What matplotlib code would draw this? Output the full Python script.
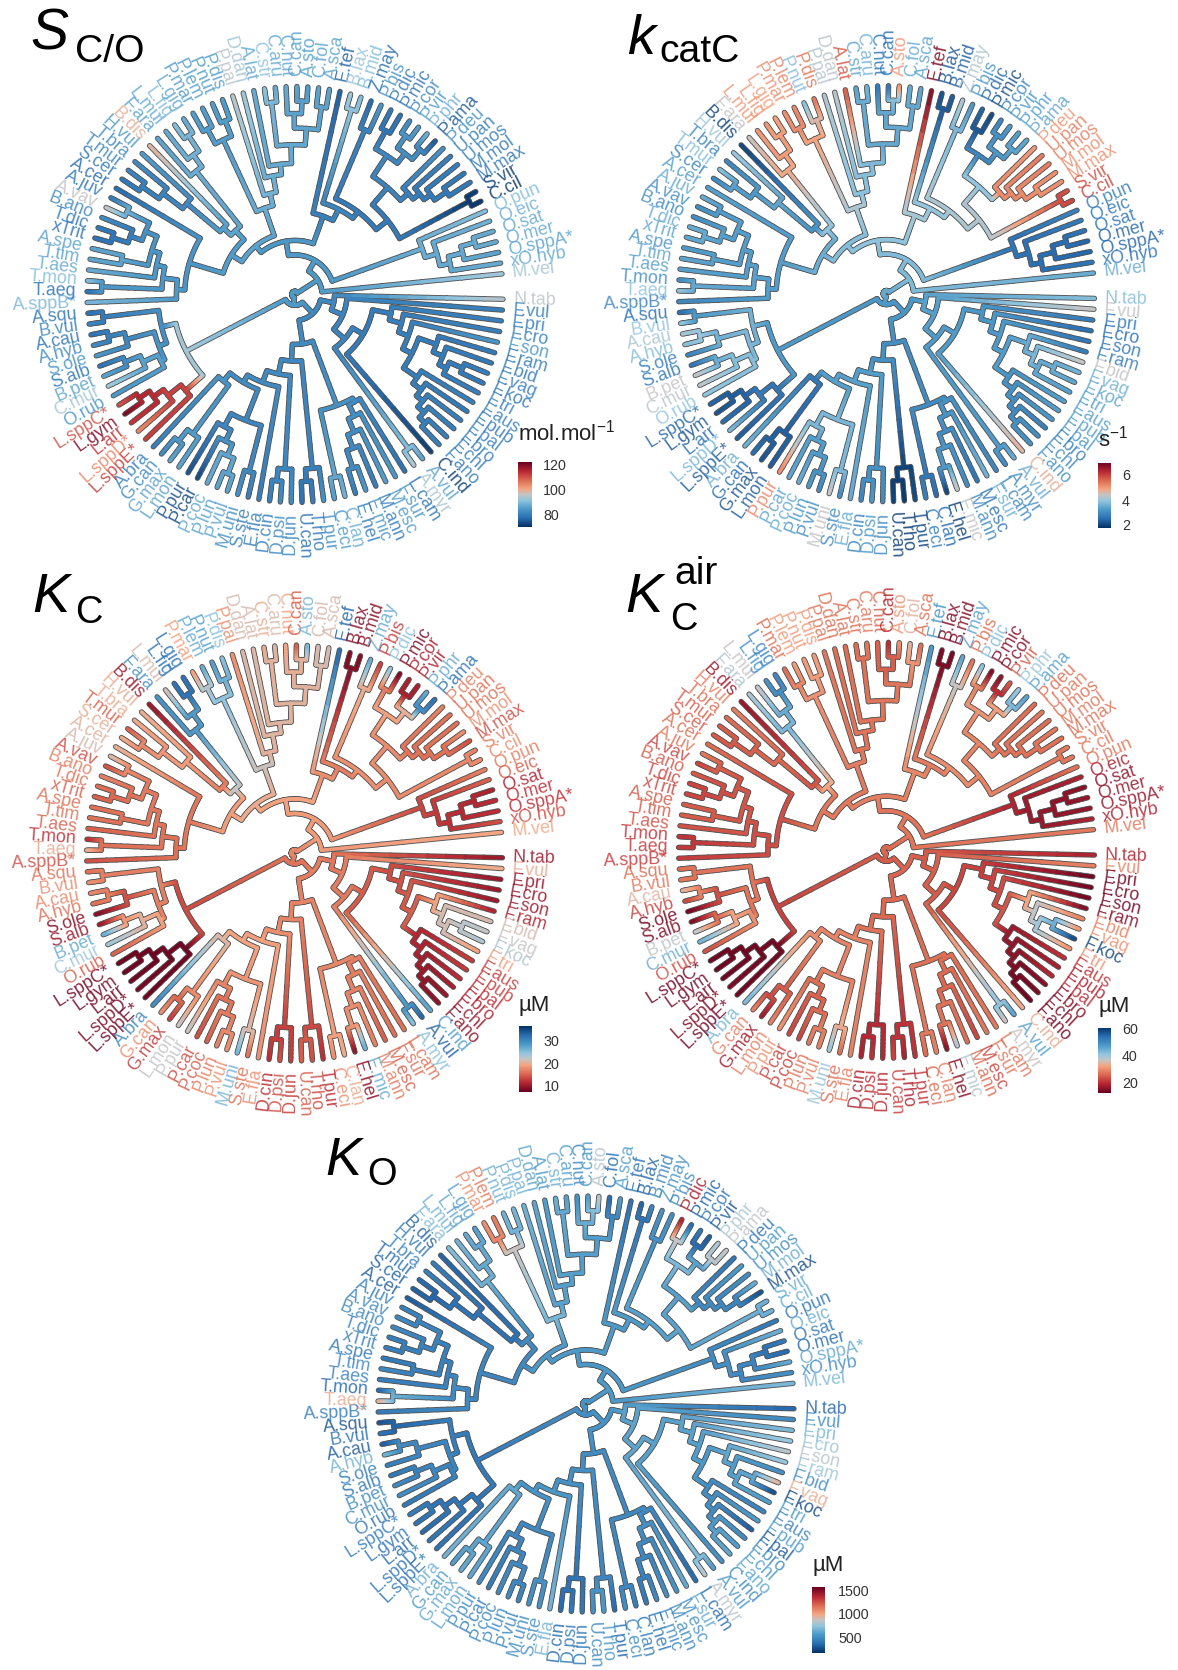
import numpy as np
import matplotlib
matplotlib.use("Agg")
import matplotlib.pyplot as plt
from matplotlib.collections import LineCollection
from matplotlib.colors import LinearSegmentedColormap

plt.rcParams['font.family'] = ['Liberation Sans', 'DejaVu Sans']
plt.rcParams['mathtext.default'] = 'regular'
plt.rcParams['mathtext.fontset'] = 'custom'
plt.rcParams['mathtext.rm'] = 'Liberation Sans'

# ---------- data ----------
TIPS = ['N.tab','F.vul','F.pri','F.cro','F.son','F.ram','F.bid','F.vag','F.koc','F.tri','F.aus','F.pub','F.pal','F.bro','F.chl','F.ano',
 'C.ind','A.vul','A.myr','L.cam','F.sur','M.esc','M.ann','E.mic','E.hel','C.lan','C.eci','T.pur','T.rho','U.can','D.jun','D.psi','D.cin',
 'E.fla','S.ste','M.uni','P.vul','P.lun','P.coc','P.car','P.pur','L.mon','G.max','G.can','A.bra','L.sppE*','L.sppD*','L.arr','L.gym','L.sppC*',
 'O.rub','C.mur','B.pet','S.alb','S.ole','A.hyb','A.cau','B.vul','A.squ','A.sppB*','T.aeg','T.mon','T.aes','T.tim','A.spe','xTrit','T.dic',
 'B.ano','A.vav','A.juv','A.cer','S.cer','T.mur','T.bra','H.vul','B.dis','F.ara','L.mul','L.fig','L.gig','P.mar','P.lem','P.nut','P.dis',
 'P.pal','D.dan','A.lat','C.str','C.aru','C.nut','C.can','A.sto','C.fol','A.sca','E.tef','B.lax','B.mid','Z.may','P.bis','P.dic','P.mic',
 'P.cor','P.vir','P.phr','P.ama','P.deu','U.pan','U.mos','M.mol','M.max','S.vir','C.cil','O.pun','O.eic','O.sat','O.mer','O.sppA*','xO.hyb','M.vel']

SCO = [95,80,80,80,84,79,79,80,79,80,80,79,80,80,80,80,72,86,94,78,84,85,80,84,80,88,85,83,80,78,82,82,80,80,80,83,86,86,87,73,74,86,86,82,80,
 112,104,113,120,110,84,93,86,78,84,82,78,81,78,89,78,90,87,86,86,78,79,82,96,79,77,79,81,82,85,99,86,87,90,87,85,85,85,85,95,93,87,91,87,87,86,85,86,86,
 76,92,90,77,84,79,78,82,85,88,75,83,80,80,79,79,72,71,90,88,87,87,86,87,93]
KCAT = [3.8,4.4,2.7,2.5,2.6,2.7,4.4,3.6,3.4,3.3,3.3,3.3,3.2,2.8,3.0,3.1,4.7,3.5,3.0,2.9,3.6,2.6,3.0,4.4,2.0,2.5,2.8,2.1,1.9,2.0,3.0,3.2,2.9,3.5,3.0,4.4,3.0,3.2,3.5,3.4,5.2,2.3,2.2,2.5,3.6,
 2.3,3.7,2.5,2.2,2.4,3.9,4.3,4.4,2.6,2.8,3.8,4.1,3.9,2.5,2.9,3.9,3.0,3.3,3.4,3.2,3.4,3.5,3.0,3.0,3.5,3.3,2.9,3.8,2.9,4.0,2.0,4.4,5.0,5.0,4.9,5.1,5.2,3.8,5.4,4.2,4.3,5.7,3.4,3.6,2.7,2.6,5.0,3.5,3.4,
 6.8,2.2,2.3,4.2,3.2,2.4,2.1,2.9,3.2,3.3,3.4,5.0,5.3,5.3,5.1,5.1,5.8,5.9,2.8,2.7,2.6,2.4,2.4,2.6,3.5]
KC = [10,20,10,10,10,11,21,22,23,19,13,13,12,11,10,9.5,28,33,25,16,16,15,17,27,9.5,20,18,12,14,15,13,14,12,18,16,26,18,17,15,14,22,22,13,18,30,
 8,8.5,8,8,8,15,24,27,10,9,16,17.5,18,16,14,20,12,15,16,16,15,16,17,14,21,20.5,20,15,20,20,10,29,21,32,32,19,27,28,25,18,21,21,20,21,19.5,15,26,21,21,
 33,9,9,27,13,25,8.5,11,11,27,32,17,16,16,18,14,17,18,17,15,11,12,12,14,19.5]
KCAIR = [18,28,13,13,13,14,28,30,58,30,20,18,19,15,14,13,33,46,36,27,27,22,26,38,15,28,26,20,18,22,19,20,18,28,26,40,28,27,22,22,30,28,17,28,43,
 13,14,13,13,13,23,44,37,14,13,22,34,27,26,21,21,20,23,24,24,22,22,24,22,27,26,24,24,26,28,16,38,36,48,50,26,31,31,31,27,26,26,26,27,25,19,30,34,26,
 48,14,14,46,26,42,14,15,24,40,46,26,27,26,27,26,27,27,27,18,15,16,16,18,27]
KO = [330,480,680,760,840,760,500,950,250,560,450,560,300,480,560,600,500,560,840,350,620,520,500,480,400,430,500,350,550,500,400,400,350,660,520,500,450,480,480,420,480,600,620,560,650,
 380,400,350,380,420,400,500,480,400,430,660,300,380,280,420,950,330,430,470,400,430,430,470,470,430,300,320,350,440,420,330,700,660,620,580,1050,1120,650,660,650,600,560,640,580,500,560,830,350,570,
 380,330,450,520,500,1400,330,400,300,800,850,400,550,500,640,260,640,640,400,640,400,350,620,500,680]

def N(r, *kids):
    return (r, kids)

# node depths (1 = tip)
FLAV5 = N(.72,'F.ram',N(.77,'F.bid',N(.81,N(.88,'F.vag','F.koc'),'F.tri')))
FLAV6 = N(.71,'F.aus',N(.76,'F.pub',N(.80,'F.pal',N(.84,'F.bro',N(.88,'F.chl','F.ano')))))
FLAV = N(.47,'F.pri',N(.53,'F.cro',N(.58,'F.son',N(.63,FLAV5,FLAV6))))
GRP_A = N(.19,'N.tab',N(.25,'F.vul',N(.32,N(.38,FLAV,'C.ind'),N(.92,'A.vul','A.myr'))))
COMB = N(.59,'L.cam',N(.65,'F.sur',N(.72,'M.esc',N(.79,'M.ann',N(.88,'E.mic','E.hel')))))
GRP_H2 = N(.57,COMB,N(.90,'C.lan','C.eci'))
TRI_T = N(.84,'T.pur',N(.90,'T.rho','U.can'))
TRI_D = N(.84,'D.jun',N(.90,'D.psi','D.cin'))
CL_P = N(.72,N(.78,N(.84,N(.92,'P.vul','P.lun'),'P.coc'),'P.car'),'P.pur')
GRP_H9 = N(.65,N(.88,'S.ste','M.uni'),CL_P)
GRP_HA = N(.54,N(.83,'L.mon',N(.90,'G.max','G.can')),'A.bra')
GRP_H5 = N(.45,'E.fla',N(.49,GRP_H9,GRP_HA))
GRP_H = N(.24,N(.32,N(.39,GRP_H5,TRI_D),TRI_T),GRP_H2)
GRP_I = N(.125,GRP_A,GRP_H)
CL_L = N(.70,'L.sppE*',N(.78,'L.sppD*',N(.84,'L.arr',N(.90,'L.gym','L.sppC*'))))
CL_K2 = N(.72,'O.rub',N(.80,'C.mur',N(.88,'B.pet','S.alb')))
CL_K3 = N(.84,'S.ole',N(.92,'A.hyb','A.cau'))
CL_K = N(.66,N(.70,CL_K2,CL_K3),N(.93,'B.vul','A.squ'))
GRP_LK = N(.59,CL_L,CL_K)
CL_T4 = N(.78,N(.84,N(.92,'xTrit','T.dic'),'B.ano'),N(.90,'A.vav','A.juv'))
CL_T1 = N(.64,N(.93,'T.aeg','T.mon'),N(.68,'T.aes',N(.72,N(.85,'T.tim','A.spe'),CL_T4)))
CL_TN = N(.53,N(.57,'A.sppB*',CL_T1),'A.cer')
CL_Y2 = N(.47,N(.68,N(.80,N(.90,'S.cer','T.mur'),'T.bra'),'H.vul'),'B.dis')
CL_Y3 = N(.76,'F.ara',N(.83,'L.mul',N(.92,'L.fig','L.gig')))
GRP_G1 = N(.36,CL_TN,N(.42,CL_Y2,CL_Y3))
CL_V1 = N(.82,N(.90,'P.mar','P.lem'),N(.90,'P.nut','P.dis'))
CL_W1 = N(.72,N(.93,'C.str','C.aru'),N(.80,N(.87,'C.nut',N(.93,'C.can','A.sto')),N(.91,'C.fol','A.sca')))
CL_W4 = N(.50,'P.pal',N(.58,'D.dan',N(.63,'A.lat',CL_W1)))
GRP_X1 = N(.44,CL_V1,CL_W4)
CL_S1 = N(.80,N(.90,'P.dic','P.mic'),N(.86,N(.93,'P.cor','P.vir'),N(.92,'P.phr','P.ama')))
CL_S2 = N(.73,'P.deu',N(.77,'U.pan',N(.81,'U.mos',N(.88,'M.mol','M.max'))))
CL_Q4 = N(.57,N(.68,CL_S1,CL_S2),N(.95,'S.vir','C.cil'))
CL_Q = N(.40,'E.tef',N(.46,N(.93,'B.lax','B.mid'),N(.50,N(.86,'Z.may','P.bis'),CL_Q4)))
CL_O = N(.65,'O.pun',N(.71,'O.eic',N(.76,N(.83,N(.90,'O.sat','O.mer'),'O.sppA*'),'xO.hyb')))
GRP_UP = N(.19,N(.26,N(.30,GRP_G1,GRP_X1),CL_Q),CL_O)
GRP_U = N(.13,GRP_UP,'M.vel')
TREE = N(.015,N(.052,GRP_I,GRP_LK),GRP_U)

W, H = 1178, 1670
R = 208.0
THETA0, GAP = -1.3, 7.0
LABEL_R = 1.05
STOPS = [(0,'#053061'),(.14,'#2a6fb3'),(.28,'#4d9ac9'),(.41,'#92c5de'),(.5,'#c4c4c4'),(.59,'#f4a582'),(.72,'#dc6b52'),(.85,'#bb2a34'),(1,'#67001f')]
CMAP = LinearSegmentedColormap.from_list('cm', STOPS)
CMAP_R = CMAP.reversed()

panels = [
 dict(vals=SCO,  c=(295,294.5), cm=CMAP,   lim=(70,122),   ticks=[80,100,120], bar=(518,532,462,527), tx=543, title='mol.mol$^{-1}$', ty=441),
 dict(vals=KCAT, c=(886.5,293.7), cm=CMAP, lim=(1.76,7.0), ticks=[2,4,6], bar=(1098,1111,462.5,528), tx=1122, title='s$^{-1}$', ty=446),
 dict(vals=KC,   c=(294.5,853), cm=CMAP_R, lim=(7.5,36.5), ticks=[10,20,30], bar=(519,532,1026,1091.6), tx=543.6, title='\u00b5M', ty=1011),
 dict(vals=KCAIR,c=(886.5,850.3), cm=CMAP_R, lim=(12,60.7), ticks=[20,40,60], bar=(1098,1111,1028,1093), tx=1122, title='\u00b5M', ty=1011.6),
 dict(vals=KO,   c=(586,1404), cm=CMAP,    lim=(160,1564), ticks=[500,1000,1500], bar=(812,825,1587,1653), tx=838, title='\u00b5M', ty=1571),
]

# (text, x, baseline y, font px, italic)
headings = [
 ('S',30,50,57,True),('C/O',75,62,39,False),
 ('k',627,53.6,56,True),('catC',659,62.5,39,False),
 ('K',32,612.5,56,True),('C',75,622.7,38,False),
 ('K',625.6,612.5,56,True),('air',674,584.5,39,False),('C',670,630,38,False),
 ('K',325,1174.8,54,True),('O',367,1185,38,False),
]

fig = plt.figure(figsize=(W/100, H/100), dpi=100)
fig.patch.set_facecolor('white')

tip_index = {t: i for i, t in enumerate(TIPS)}
DT = (360.0 - GAP) / (len(TIPS) - 1)
def tip_theta(i):
    return np.deg2rad(THETA0 - i * DT)

def layout(node):
    if isinstance(node, str):
        return dict(name=node, th=tip_theta(tip_index[node]), r=1.0, kids=[])
    kids = [layout(k) for k in node[1]]
    th = (kids[0]['th'] + kids[-1]['th']) / 2
    return dict(name=None, th=th, r=node[0], kids=kids)

def assign(n, values):
    """Each inner node takes the mean of the tips below it."""
    if n['name']:
        n['v'] = values[tip_index[n['name']]]
        return [n['v']]
    below = []
    for k in n['kids']:
        below += assign(k, values)
    n['v'] = float(np.mean(below))
    return below

LAYOUT = layout(TREE)

def collect(n, segs, vals):
    if not n['kids']:
        return
    ths = [k['th'] for k in n['kids']]
    a = np.linspace(ths[0], ths[-1], max(3, int(abs(ths[-1]-ths[0])/np.deg2rad(1.5))+2))
    for t0, t1 in zip(a[:-1], a[1:]):
        segs.append([(n['r']*np.cos(t0), n['r']*np.sin(t0)), (n['r']*np.cos(t1), n['r']*np.sin(t1))])
        vals.append(n['v'])
    for k in n['kids']:
        rr = np.linspace(n['r'], k['r'], 10)
        for j in range(9):
            segs.append([(rr[j]*np.cos(k['th']), rr[j]*np.sin(k['th'])), (rr[j+1]*np.cos(k['th']), rr[j+1]*np.sin(k['th']))])
            f = (j + .5) / 9
            vals.append(n['v'] + (k['v'] - n['v']) * f)
        collect(k, segs, vals)

def draw_panel(p):
    cx, cy = p['c']
    span = R * 1.45
    ax = fig.add_axes([(cx-span)/W, 1-(cy+span)/H, 2*span/W, 2*span/H])
    ax.set_xlim(-1.45, 1.45); ax.set_ylim(-1.45, 1.45); ax.axis('off'); ax.patch.set_alpha(0)
    assign(LAYOUT, p['vals'])
    segs, vals = [], []
    collect(LAYOUT, segs, vals)
    ax.add_collection(LineCollection(segs, colors='#565656', linewidths=3.9, capstyle='round'))
    lc = LineCollection(segs, cmap=p['cm'], linewidths=2.6, capstyle='round')
    lc.set_array(np.array(vals)); lc.set_clim(*p['lim'])
    ax.add_collection(lc)
    norm = plt.Normalize(*p['lim'])
    for i, t in enumerate(TIPS):
        th = tip_theta(i)
        deg = np.rad2deg(th) % 360
        left = 90 < deg < 270
        ax.text(LABEL_R*np.cos(th), LABEL_R*np.sin(th), t, color=p['cm'](norm(p['vals'][i])),
                fontsize=12.9, rotation=deg-180 if left else deg, rotation_mode='anchor',
                ha='right' if left else 'left', va='center', alpha=.85)
    # colour bar
    x0, x1, y0, y1 = p['bar']
    bax = fig.add_axes([x0/W, 1-y1/H, (x1-x0)/W, (y1-y0)/H])
    g = np.linspace(p['lim'][0], p['lim'][1], 256).reshape(-1, 1)
    bax.imshow(g, origin='lower', aspect='auto', cmap=p['cm'], vmin=p['lim'][0], vmax=p['lim'][1],
               extent=(0, 1, p['lim'][0], p['lim'][1]))
    bax.set_xticks([])
    bax.yaxis.tick_right()
    bax.set_yticks(p['ticks'])
    bax.set_yticklabels([str(v) for v in p['ticks']], fontsize=10.3, color='#333333')
    bax.tick_params(axis='y', length=0, pad=(p['tx']-x1)*.72)
    for s in bax.spines.values():
        s.set_visible(False)
    fig.text(x0/W, 1-p['ty']/H, p['title'], fontsize=16, color='#222222', va='baseline', ha='left')

for p in panels:
    draw_panel(p)

for txt, x, y, px, ital in headings:
    fig.text(x/W, 1-y/H, txt, fontsize=px*.72, style='italic' if ital else 'normal', color='black', va='baseline', ha='left')

fig.savefig('out.png', dpi=100, facecolor='white')
